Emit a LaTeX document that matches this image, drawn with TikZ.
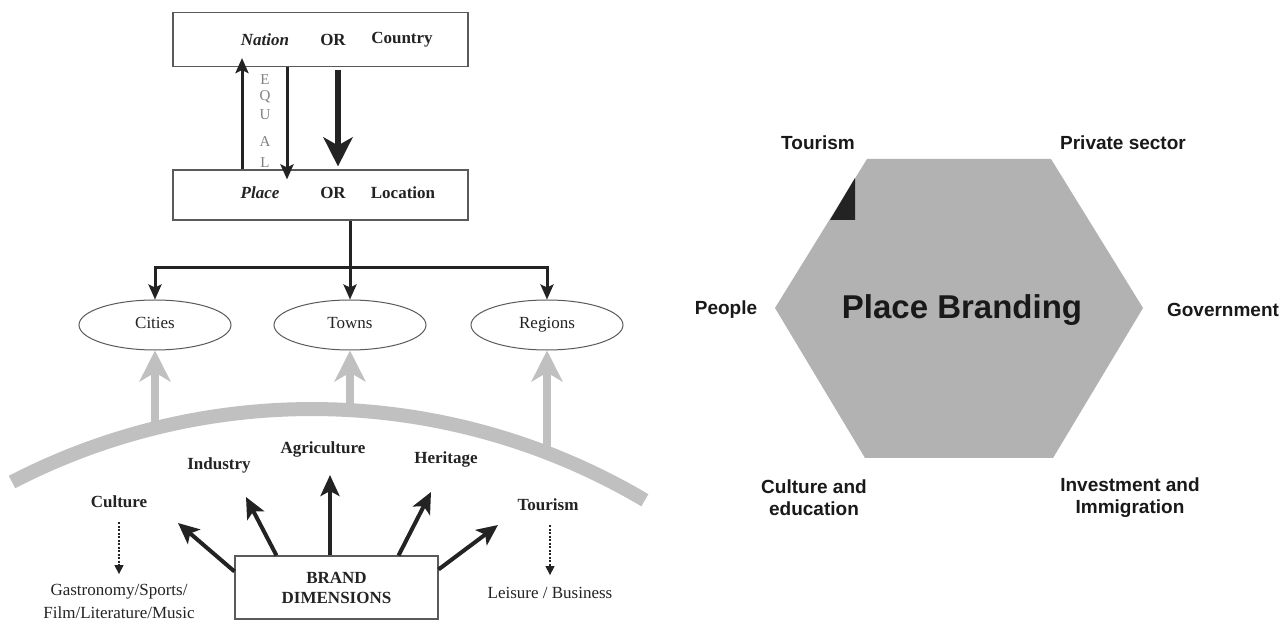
\documentclass[tikz,border=0pt]{standalone}
\usepackage{fontspec}
\setmainfont{Liberation Serif}
\setsansfont{Liberation Sans}
\usetikzlibrary{arrows.meta,calc,shapes.geometric,positioning}
\definecolor{bandgray}{RGB}{192,192,192}
\definecolor{hexgray}{RGB}{178,178,178}
\definecolor{inkgray}{RGB}{35,35,35}
\tikzstyle{every node}=[font=\fontsize{17}{21}\selectfont, text=inkgray, inner sep=0pt]
\tikzstyle{levelbox}=[draw=inkgray!75, line width=1.1pt, minimum width=295pt, minimum height=54pt]
\tikzstyle{placeoval}=[ellipse, draw=inkgray!75, line width=1pt, minimum width=152pt, minimum height=50pt, text height=11pt, text depth=4pt]
\tikzstyle{link}=[draw=inkgray, line width=3pt, -{Stealth[length=15pt,width=13pt,inset=3pt]}]
\tikzstyle{feed}=[draw=bandgray, line width=8pt, -{Stealth[length=31pt,width=31pt,inset=9pt]}]
\tikzstyle{dimarrow}=[draw=inkgray, line width=4pt, -{Stealth[length=21pt,width=19pt,inset=5pt]}]
\tikzstyle{subarrow}=[draw=inkgray, line width=1.3pt, dash pattern=on 2pt off 1.5pt, -{Triangle[length=9pt,width=9pt]}]
\tikzstyle{dimlabel}=[font=\bfseries\fontsize{17}{21}\selectfont]
\tikzstyle{actor}=[font=\sffamily\bfseries\fontsize{19}{22}\selectfont, align=center, text=black!90]

\begin{document}
\begin{tikzpicture}[x=1pt,y=1pt,line join=miter]
    \useasboundingbox[fill=white] (0,0) rectangle (1284,621);

    % nation / place levels
    \node[levelbox] (nation) at (320.5,581.5) {};
    \node[levelbox, minimum height=50pt] (place) at (320.5,426) {};
    \node[font=\bfseries\itshape\fontsize{17}{21}\selectfont] (nationWord) at (265,581) {Nation};
    \node[dimlabel] (nationOr) at (333,581) {OR};
    \node[dimlabel] (country) at (402,581) {Country};
    \node[font=\bfseries\itshape\fontsize{17}{21}\selectfont] (placeWord) at (260,428) {Place};
    \node[dimlabel] (placeOr) at (333,428) {OR};
    \node[dimlabel] (location) at (403,428) {Location};

    \draw[link] ([xshift=-78.5pt]place.north) -- ([xshift=-78.5pt,yshift=9pt]nation.south);
    \draw[link] ([xshift=-33.5pt]nation.south) -- ([xshift=-33.5pt,yshift=-10pt]place.north);
    \foreach \ch/\y in {E/541,Q/524,U/506,A/479,L/458}
        \node[font=\fontsize{15}{18}\selectfont, text=gray] (equal\ch) at (265,\y) {\ch};
    \draw[link, line width=6pt, -{Stealth[length=29pt,width=29pt,inset=8pt]}] ([xshift=17.5pt,yshift=-3pt]nation.south) -- ([xshift=17.5pt,yshift=3pt]place.north);

    % cities, towns, regions
    \node[placeoval] (cities) at (155,296) {Cities};
    \node[placeoval] (towns) at (350,296) {Towns};
    \node[placeoval] (regions) at (547,296) {Regions};

    \coordinate (fork) at (350,353);
    \draw[link] (place.south -| towns.north) -- (towns.north);
    \draw[link] (fork) -| (cities.north);
    \draw[link] (fork) -| (regions.north);

    % the gray band
    \coordinate (bandCentre) at (312,-441);
    \draw[draw=bandgray, line width=14pt] (bandCentre) ++(117.35:653) arc[start angle=117.35, end angle=59.35, radius=653];
    \coordinate (feedCities) at (155,193);
    \coordinate (feedTowns) at (350,211);
    \coordinate (feedRegions) at (547,168);
    \draw[feed] (feedCities) -- (cities.south);
    \draw[feed] (feedTowns) -- (towns.south);
    \draw[feed] (feedRegions) -- (regions.south);

    % brand dimensions
    \node[dimlabel] (culture) at (119,119) {Culture};
    \node[dimlabel] (industry) at (219,156) {Industry};
    \node[dimlabel] (agriculture) at (323,172) {Agriculture};
    \node[dimlabel] (heritage) at (446,162) {Heritage};
    \node[dimlabel] (leftTourism) at (548,116) {Tourism};

    \node[draw=inkgray!75, line width=1.1pt, minimum width=203pt, minimum height=63pt, align=center,
          font=\bfseries\fontsize{17}{20}\selectfont] (brand) at (336.5,33.5) {BRAND\\DIMENSIONS};

    \coordinate (cultureTip) at (178,98);
    \coordinate (industryTip) at (246,124);
    \coordinate (agricultureTip) at (330,146);
    \coordinate (heritageTip) at (431,129);
    \coordinate (tourismTip) at (498,96);
    \draw[dimarrow] ([yshift=-16pt]brand.north west) -- (cultureTip);
    \draw[dimarrow] ([xshift=42pt]brand.north west) -- (industryTip);
    \draw[dimarrow] (brand.north -| agricultureTip) -- (agricultureTip);
    \draw[dimarrow] ([xshift=-40pt]brand.north east) -- (heritageTip);
    \draw[dimarrow] ([yshift=-14pt]brand.north east) -- (tourismTip);

    \node[align=center, font=\fontsize{17}{23}\selectfont] (gastronomy) at (119,19.5) {Gastronomy/Sports/\\Film/Literature/Music};
    \node (leisure) at (550,28) {Leisure / Business};
    \draw[subarrow] ([yshift=-14pt]culture.south) -- ([yshift=10pt]gastronomy.north);
    \draw[subarrow] ([xshift=2pt,yshift=-14pt]leftTourism.south) -- ([yshift=12pt]leisure.north);

    % place branding hexagon
    \coordinate (hexL) at (775,313);
    \coordinate (hexTL) at (867,462);
    \coordinate (hexTR) at (1051,462);
    \coordinate (hexR) at (1143,313);
    \coordinate (hexBR) at (1053,163);
    \coordinate (hexBL) at (865,163);
    \fill[hexgray] (hexL) -- (hexTL) -- (hexTR) -- (hexR) -- (hexBR) -- (hexBL) -- cycle;
    \fill[inkgray] (855,443) -- (830,401) -- (855,401) -- cycle;

    \node[font=\sffamily\bfseries\fontsize{33}{36}\selectfont, text=black!90] (branding) at (962,311) {Place Branding};
    \node[actor] (hexTourism) at (818,478) {Tourism};
    \node[actor] (privateSector) at (1123,478) {Private sector};
    \node[actor] (people) at (726,311) {People};
    \node[actor] (government) at (1223,311) {Government};
    \node[actor] (cultureEducation) at (814,123.5) {Culture and\\education};
    \node[actor] (investment) at (1130,123.5) {Investment and\\Immigration};

\end{tikzpicture}
\end{document}
